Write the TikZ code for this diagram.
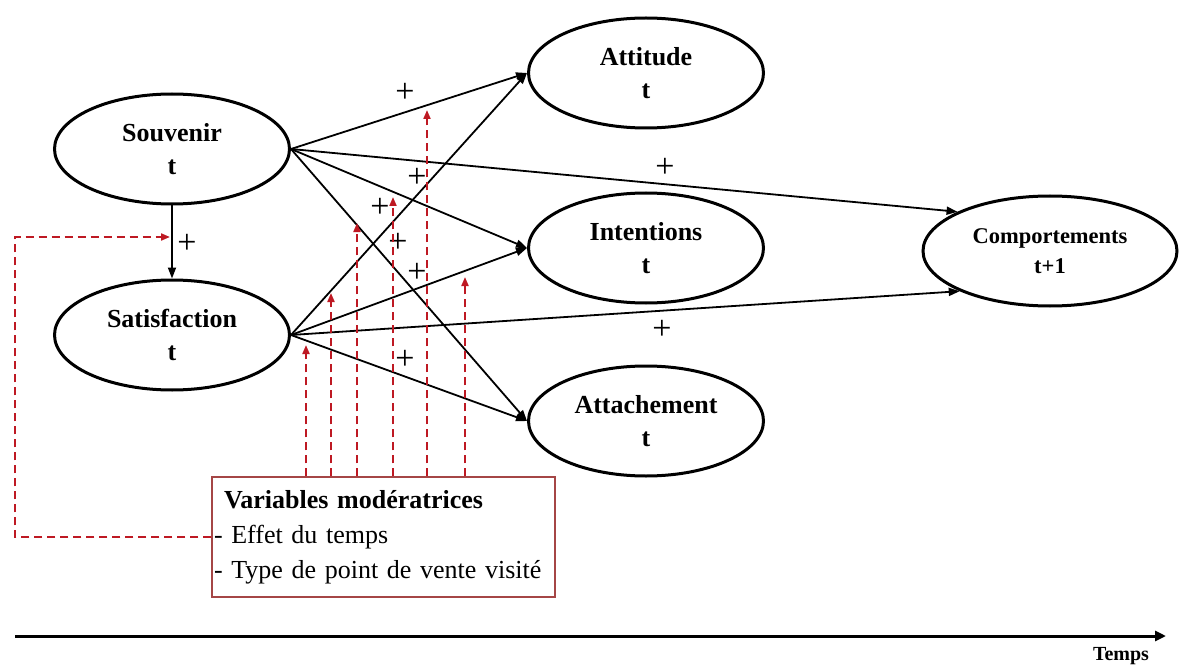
\documentclass[tikz,border=0pt]{standalone}
\usepackage{fontspec}
\setmainfont{Liberation Serif}
\usetikzlibrary{shapes.geometric,arrows.meta}

\definecolor{modred}{RGB}{190,25,35}
\definecolor{boxred}{RGB}{165,70,70}

\tikzset{
	construct/.style={shape=ellipse,draw=black,line width=3pt,minimum width=235pt,minimum height=110pt,inner sep=0pt,align=center,font=\fontsize{26}{33}\selectfont\bfseries},
	link/.style={line width=1.8pt,-{Triangle[length=11pt,width=8pt]}},
	modlink/.style={draw=modred,line width=2pt,dash pattern=on 8pt off 5pt,-{Triangle[length=9pt,width=7pt]}},
	plus/.style={font=\fontsize{34}{34}\selectfont,inner sep=0pt},
}

\begin{document}
\begin{tikzpicture}[x=1pt,y=-1pt]
	
	\useasboundingbox (0,0) rectangle (1179,666);
	
	\node[construct] (sou) at (172,149)   {Souvenir\\t};
	\node[construct] (sat) at (172,335)   {Satisfaction\\t};
	\node[construct] (att) at (646,73)    {Attitude\\t};
	\node[construct] (int) at (646,248)   {Intentions\\t};
	\node[construct] (ach) at (646,421)   {Attachement\\t};
	\node[construct,minimum width=254pt,font=\fontsize{22.5}{30}\selectfont\bfseries] (com) at (1050,251) {Comportements\\t+1};
	
	\node[draw=boxred,line width=1.4pt,text width=339pt,inner xsep=2pt,minimum height=120pt,align=left,font=\fontsize{26}{35}\selectfont] (mod) at (383.5,537)
	{\hspace*{10pt}\textbf{Variables modératrices}\\- Effet du temps\\- Type de point de vente visité};
	
	\path[link] (sou.south) edge (sat.north);
	\path[link] (sou.east) edge (att.west);
	\path[link] (sou.east) edge (int.west);
	\path[link] (sou.east) edge (ach.west);
	\path[link] (sou.east) edge (com.157);
	\path[link] (sat.east) edge (att.west);
	\path[link] (sat.east) edge (int.west);
	\path[link] (sat.east) edge (ach.west);
	\path[link] (sat.east) edge (com.204);
	
	\node[plus] (p1) at (405,93)  {+};
	\node[plus] (p2) at (665,168) {+};
	\node[plus] (p3) at (417,178) {+};
	\node[plus] (p4) at (380,208) {+};
	\node[plus] (p5) at (398,243) {+};
	\node[plus] (p6) at (417,273) {+};
	\node[plus] (p7) at (405,360) {+};
	\node[plus] (p8) at (662,330) {+};
	\node[plus] (p9) at (187,244) {+};
	
	% moderating effects
	\coordinate (m1) at (306,345);
	\coordinate (m2) at (331,293);
	\coordinate (m3) at (357,223);
	\coordinate (m4) at (393,197);
	\coordinate (m5) at (427,110);
	\coordinate (m6) at (465,277);
	\foreach \m in {m1,m2,m3,m4,m5,m6}
		\draw[modlink] (mod.north -| \m) -- (\m);
	\coordinate (fb) at (170,237);
	\draw[modlink] (mod.west) -| ([xshift=-155pt]fb) -- (fb);
	
	% time axis
	\coordinate (t0) at (15,636);
	\coordinate (t1) at (1166,636);
	\draw[line width=3pt,-{Triangle[length=11pt,width=10pt]}] (t0) -- (t1);
	\node[font=\fontsize{20}{20}\selectfont\bfseries] (temps) at (1121,656) {Temps};
	
\end{tikzpicture}
\end{document}
